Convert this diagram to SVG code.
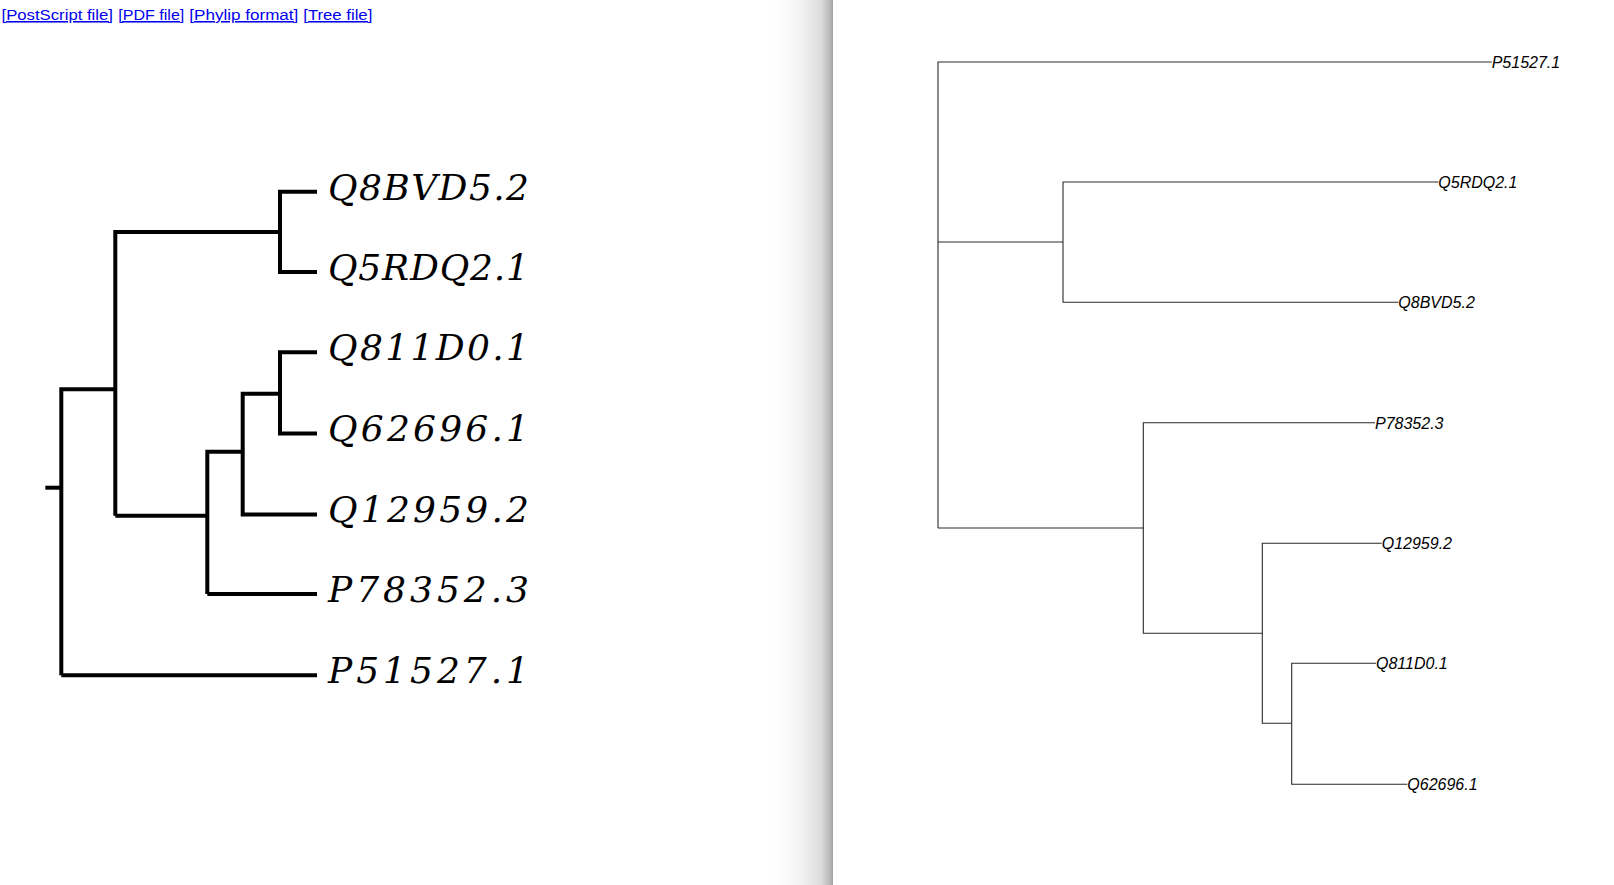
<svg xmlns="http://www.w3.org/2000/svg" width="1614" height="885" viewBox="0 0 1614 885">
  <defs>
    <linearGradient id="shadow" x1="0" y1="0" x2="1" y2="0">
      <stop offset="0" stop-color="#ffffff"/>
      <stop offset="0.45" stop-color="#f4f4f4"/>
      <stop offset="0.8" stop-color="#dcdcdc"/>
      <stop offset="0.95" stop-color="#b8b8b8"/>
      <stop offset="1" stop-color="#a0a0a0"/>
    </linearGradient>
    <style>
      .link { font-family: "Liberation Sans", Arial, sans-serif; font-size: 15.5px; fill: #0000ee; text-decoration: underline; }
      .thick { fill: none; stroke: #000; stroke-width: 4; stroke-linejoin: miter; stroke-linecap: butt; }
      .thin { fill: none; stroke: #2a2a2a; stroke-width: 1.1; }
      .biglabel { font-family: "DejaVu Serif", "Liberation Serif", serif; font-style: italic; font-size: 36px; fill: #000; }
      .smalllabel { font-family: "Liberation Sans", Arial, sans-serif; font-style: italic; font-size: 16px; fill: #000; }
    </style>
  </defs>

  <rect x="0" y="0" width="1614" height="885" fill="#ffffff"/>
  <rect x="773" y="0" width="60" height="885" fill="url(#shadow)"/>

  <g id="links">
    <text class="link" x="1.5" y="20" textLength="111.5" lengthAdjust="spacingAndGlyphs">[PostScript file]</text>
    <text class="link" x="118.3" y="20" textLength="66" lengthAdjust="spacingAndGlyphs">[PDF file]</text>
    <text class="link" x="189.3" y="20" textLength="109" lengthAdjust="spacingAndGlyphs">[Phylip format]</text>
    <text class="link" x="303.3" y="20" textLength="69" lengthAdjust="spacingAndGlyphs">[Tree file]</text>
  </g>

  <!-- Left tree (rooted, bold) -->
  <g id="left-connectors">
    <path class="thick" d="M45.3,487.7 H61.3"/>
    <path class="thick" d="M317,389.3 M61.3,675.3 V389.3 H115.3"/>
    <path class="thick" d="M61.3,675.3 H317"/>
    <path class="thick" d="M115.3,515.7 V232 H280"/>
    <path class="thick" d="M115.3,515.7 H207.3"/>
    <path class="thick" d="M317,191.7 H280 V272 H317"/>
    <path class="thick" d="M207.3,594 V451.7 H242.7"/>
    <path class="thick" d="M207.3,594 H317"/>
    <path class="thick" d="M317,514.5 H242.7 V393.7 H280"/>
    <path class="thick" d="M317,352.3 H280 V433.5 H317"/>
  </g>

  <g id="left-Q8BVD5.2"><text class="biglabel" x="328" y="199.5" textLength="201" lengthAdjust="spacing">Q8BVD5.2</text></g>
  <g id="left-Q5RDQ2.1"><text class="biglabel" x="328" y="279.8" textLength="201" lengthAdjust="spacing">Q5RDQ2.1</text></g>
  <g id="left-Q811D0.1"><text class="biglabel" x="328" y="360" textLength="201" lengthAdjust="spacing">Q811D0.1</text></g>
  <g id="left-Q62696.1"><text class="biglabel" x="328" y="441" textLength="201" lengthAdjust="spacing">Q62696.1</text></g>
  <g id="left-Q12959.2"><text class="biglabel" x="328" y="522" textLength="201" lengthAdjust="spacing">Q12959.2</text></g>
  <g id="left-P78352.3"><text class="biglabel" x="328" y="601.5" textLength="201" lengthAdjust="spacing">P78352.3</text></g>
  <g id="left-P51527.1"><text class="biglabel" x="328" y="682.5" textLength="201" lengthAdjust="spacing">P51527.1</text></g>

  <!-- Right tree (unrooted layout, thin) -->
  <g id="right-connectors">
    <path class="thin" d="M938,528 V62 H1491.7"/>
    <path class="thin" d="M938,242 H1063"/>
    <path class="thin" d="M1438.3,182 H1063 V302.3 H1398.3"/>
    <path class="thin" d="M938,528 H1143.3"/>
    <path class="thin" d="M1375,422.7 H1143.3 V633.3 H1262.3"/>
    <path class="thin" d="M1381.7,543.3 H1262.3 V723.3 H1291.7"/>
    <path class="thin" d="M1376,663.3 H1291.7 V784.3 H1407.3"/>
  </g>

  <g id="right-P51527.1"><text class="smalllabel" x="1491.7" y="68">P51527.1</text></g>
  <g id="right-Q5RDQ2.1"><text class="smalllabel" x="1438.3" y="188">Q5RDQ2.1</text></g>
  <g id="right-Q8BVD5.2"><text class="smalllabel" x="1398.3" y="308.3">Q8BVD5.2</text></g>
  <g id="right-P78352.3"><text class="smalllabel" x="1375" y="428.7">P78352.3</text></g>
  <g id="right-Q12959.2"><text class="smalllabel" x="1381.7" y="549.3">Q12959.2</text></g>
  <g id="right-Q811D0.1"><text class="smalllabel" x="1376" y="669.3">Q811D0.1</text></g>
  <g id="right-Q62696.1"><text class="smalllabel" x="1407.3" y="790.3">Q62696.1</text></g>
</svg>
